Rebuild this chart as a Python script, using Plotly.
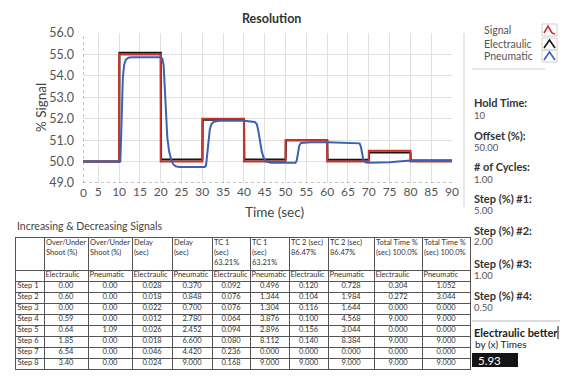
import plotly.graph_objects as go
from itertools import accumulate

W, H = 567, 382
FONT = "Lato"

# ---------------- chart data ----------------
signal_t = [0, 10, 10, 20, 20, 30, 30, 40, 40, 50, 50, 60, 60, 70, 70, 80, 80, 90]
signal_v = [50.0, 50.0, 55.0, 55.0, 50.0, 50.0, 52.0, 52.0, 50.0, 50.0, 51.0, 51.0, 50.0, 50.0, 50.5, 50.5, 50.0, 50.0]

electraulic_t = [0, 10.03, 10.1, 20.03, 20.1, 30.03, 30.1, 40.03, 40.1, 50.03, 50.1, 60.03, 60.1, 70.03, 70.1, 80.03, 80.1, 90]
electraulic_v = [50.0, 50.0, 55.08, 55.08, 50.1, 50.1, 51.95, 51.95, 50.1, 50.1, 51.0, 51.0, 50.08, 50.08, 50.42, 50.42, 50.05, 50.05]

pneumatic_t = [0, 10.3, 10.5, 10.7, 10.9, 11.2, 11.6, 12.2, 13.0, 20.0, 20.4, 20.7, 20.9, 21.1, 21.3, 21.6, 22.0, 22.5, 23.0, 23.6, 24.5,
               30.6, 30.9, 31.2, 31.5, 31.8, 32.2, 32.8, 34.0, 40.0, 42.6, 43.1, 43.5, 43.9, 44.3, 44.8, 45.4, 46.5,
               52.4, 52.7, 53.0, 53.3, 53.7, 56.0, 60.0, 65.0, 67.8, 68.1, 68.4, 68.7, 69.2, 70.0, 75.0, 80.0, 90.0]
pneumatic_v = [50.0, 50.0, 51.2, 52.8, 53.9, 54.5, 54.75, 54.85, 54.87, 54.87, 54.8, 54.5, 53.8, 52.8, 51.9, 51.1, 50.5, 50.1, 49.88, 49.78, 49.75,
               49.75, 49.82, 50.3, 51.0, 51.5, 51.75, 51.86, 51.9, 51.9, 51.85, 51.75, 51.4, 50.9, 50.45, 50.15, 50.0, 49.95,
               49.95, 50.05, 50.4, 50.75, 50.87, 50.9, 50.9, 50.87, 50.85, 50.7, 50.35, 50.08, 49.97, 49.95, 49.97, 50.05, 50.05]

x_ticks = [5, 10, 15, 20, 25, 30, 35, 40, 45, 50, 55, 60, 65, 70, 75, 80, 85, 90]
y_ticks = [49, 50, 51, 52, 53, 54, 55, 56]

# ---------------- table data ----------------
header_labels = ["", "Over/Under<br>Shoot (%)", "Over/Under<br>Shoot (%)", "Delay<br>(sec)", "Delay<br>(sec)",
                 "TC 1<br>(sec)<br>63.21%", "TC 1<br>(sec)<br>63.21%", "TC 2 (sec)<br>86.47%", "TC 2 (sec)<br>86.47%",
                 "Total Time %<br>(sec) 100.0%", "Total Time %<br>(sec) 100.0%"]
sub_labels = ["", "Electraulic", "Pneumatic", "Electraulic", "Pneumatic", "Electraulic", "Pneumatic",
              "Electraulic", "Pneumatic", "Electraulic", "Pneumatic"]
steps = ["Step 1", "Step 2", "Step 3", "Step 4", "Step 5", "Step 6", "Step 7", "Step 8"]
ele_shoot = ["0.00", "0.60", "0.00", "0.59", "0.64", "1.85", "6.54", "3.40"]
pne_shoot = ["0.00", "0.00", "0.00", "0.00", "1.09", "0.00", "0.00", "0.00"]
ele_delay = ["0.028", "0.018", "0.022", "0.012", "0.026", "0.018", "0.046", "0.024"]
pne_delay = ["0.370", "0.848", "0.700", "2.780", "2.452", "6.600", "4.420", "9.000"]
ele_tc1 = ["0.092", "0.076", "0.076", "0.064", "0.094", "0.080", "0.236", "0.168"]
pne_tc1 = ["0.496", "1.344", "1.304", "3.876", "2.896", "8.112", "0.000", "9.000"]
ele_tc2 = ["0.120", "0.104", "0.116", "0.100", "0.156", "0.140", "0.000", "9.000"]
pne_tc2 = ["0.728", "1.984", "1.644", "4.568", "3.044", "8.384", "0.000", "9.000"]
ele_total = ["0.304", "0.272", "0.000", "9.000", "0.000", "9.000", "0.000", "9.000"]
pne_total = ["1.052", "3.044", "0.000", "9.000", "0.000", "9.000", "0.000", "9.000"]

# table geometry (layout only)
col_widths = [28, 44, 44, 40, 40, 38, 39, 39, 46, 48, 48]
header_h, row_h = 32, 11

# ---------------- side panel ----------------
panel_labels = ["Hold Time:", "Offset (%):", "# of Cycles:", "Step (%) #1:", "Step (%) #2:", "Step (%) #3:", "Step (%) #4:"]
panel_values = ["10", "50.00", "1.00", "5.00", "2.00", "1.00", "0.50"]
legend_names = ["Signal", "Electraulic", "Pneumatic"]
colors = {"Signal": "#c8352f", "Electraulic": "#151515", "Pneumatic": "#3b62b0"}
better_label = "Electraulic better"
times_label = "by (x) Times"
times_value = "5.93"


def px(x):
    return x / W


def py(y):
    return 1 - y / H


fig = go.Figure()

fig.add_trace(go.Scatter(x=electraulic_t, y=electraulic_v, mode="lines", name="Electraulic",
                         line=dict(color=colors["Electraulic"], width=2)))
fig.add_trace(go.Scatter(x=signal_t, y=signal_v, mode="lines", name="Signal",
                         line=dict(color=colors["Signal"], width=2)))
fig.add_trace(go.Scatter(x=pneumatic_t, y=pneumatic_v, mode="lines", name="Pneumatic",
                         line=dict(color=colors["Pneumatic"], width=2)))

# ---------------- table drawn on its own axes ----------------
bounds = [0] + list(accumulate(col_widths))
total_w = bounds[-1]
n_rows = 1 + len(steps)
row_bounds = [0, header_h] + [header_h + row_h * (i + 1) for i in range(n_rows)]
total_h = row_bounds[-1]

columns = [steps, ele_shoot, pne_shoot, ele_delay, pne_delay, ele_tc1, pne_tc1, ele_tc2, pne_tc2, ele_total, pne_total]
tfont = dict(family=FONT, size=7.5, color="#333")

# header texts (top-left aligned)
fig.add_trace(go.Scatter(
    x=[bounds[c] + 2 for c in range(len(header_labels))], y=[1.5] * len(header_labels),
    text=header_labels, mode="text", textposition="bottom right", textfont=tfont,
    xaxis="x2", yaxis="y2", hoverinfo="skip", cliponaxis=False))
# sub-header
fig.add_trace(go.Scatter(
    x=[bounds[c] + 1.5 for c in range(len(sub_labels))], y=[header_h + row_h / 2] * len(sub_labels),
    text=sub_labels, mode="text", textposition="middle right", textfont=tfont,
    xaxis="x2", yaxis="y2", hoverinfo="skip", cliponaxis=False))
# step labels
fig.add_trace(go.Scatter(
    x=[bounds[0] + 1.5] * len(steps), y=[row_bounds[2 + i] + row_h / 2 for i in range(len(steps))],
    text=steps, mode="text", textposition="middle right", textfont=tfont,
    xaxis="x2", yaxis="y2", hoverinfo="skip", cliponaxis=False))
# values
vx, vy, vt = [], [], []
for c in range(1, len(columns)):
    for r, val in enumerate(columns[c]):
        vx.append((bounds[c] + bounds[c + 1]) / 2)
        vy.append(row_bounds[2 + r] + row_h / 2)
        vt.append(val)
fig.add_trace(go.Scatter(x=vx, y=vy, text=vt, mode="text", textposition="middle center", textfont=tfont,
                         xaxis="x2", yaxis="y2", hoverinfo="skip", cliponaxis=False))

x0 = 1.33
fig.update_layout(
    width=W, height=H,
    margin=dict(l=0, r=0, t=0, b=0, autoexpand=False),
    paper_bgcolor="white", plot_bgcolor="white",
    showlegend=False,
    font=dict(family=FONT, color="#444"),
    xaxis=dict(domain=[px(83), px(452)], range=[x0, 90], tickvals=x_ticks,
               showgrid=True, gridcolor="#e0e0e0", gridwidth=1, zeroline=False,
               showline=False, ticks="", tickfont=dict(size=12, color="#555")),
    yaxis=dict(domain=[py(183), py(33)], range=[49, 56], tickvals=y_ticks, tickformat=".1f",
               showgrid=True, gridcolor="#e0e0e0", gridwidth=1, zeroline=False,
               showline=False, ticks="", ticklabelstandoff=8, tickfont=dict(size=12.5, color="#555")),
    xaxis2=dict(domain=[px(16), px(470)], range=[0, total_w], anchor="y2", tickvals=bounds,
                showgrid=True, gridcolor="#555", gridwidth=1, zeroline=False, showticklabels=False,
                ticks="", showline=True, mirror=True, linecolor="#555", linewidth=1, fixedrange=True),
    yaxis2=dict(domain=[py(369), py(238)], range=[total_h, 0], anchor="x2", tickvals=row_bounds,
                showgrid=True, gridcolor="#555", gridwidth=1, zeroline=False, showticklabels=False,
                ticks="", showline=True, mirror=True, linecolor="#555", linewidth=1, fixedrange=True),
)

shapes = [
    dict(type="line", xref="x", yref="y", x0=x0, x1=90, y0=49, y1=49, line=dict(color="#888", width=1, dash="dot")),
    dict(type="line", xref="x", yref="y", x0=x0, x1=x0, y0=49, y1=56, line=dict(color="#888", width=1, dash="dot")),
    dict(type="line", xref="paper", yref="paper", x0=px(464), x1=px(464), y0=py(33), y1=py(207),
         line=dict(color="#cfcfcf", width=1)),
    dict(type="line", xref="paper", yref="paper", x0=px(472), x1=px(545), y0=py(69), y1=py(69),
         line=dict(color="#cfcfcf", width=1)),
    dict(type="line", xref="paper", yref="paper", x0=px(472), x1=px(560), y0=py(321), y1=py(321),
         line=dict(color="#bbb", width=1)),
    dict(type="line", xref="paper", yref="paper", x0=px(558), x1=px(558), y0=py(326), y1=py(339),
         line=dict(color="#111", width=1)),
    dict(type="rect", xref="paper", yref="paper", x0=px(472), x1=px(518), y0=py(367), y1=py(353),
         fillcolor="#141414", line=dict(width=0)),
]

# legend icons
icon_rows = [30, 44, 56]
for name, yc in zip(legend_names, icon_rows):
    shapes.append(dict(type="rect", xref="paper", yref="paper", x0=px(542), x1=px(557),
                       y0=py(yc + 6), y1=py(yc - 6), line=dict(color="#d0d0d0", width=1)))
    if name == "Signal":
        path = (f"M {px(544)},{py(yc + 3)} L {px(548)},{py(yc - 4)} L {px(552)},{py(yc + 3)} "
                f"L {px(555)},{py(yc + 4)}")
    else:
        path = f"M {px(544)},{py(yc + 4)} L {px(549.5)},{py(yc - 4)} L {px(555)},{py(yc + 4)}"
    shapes.append(dict(type="path", xref="paper", yref="paper", path=path,
                       line=dict(color=colors[name], width=1.6)))
fig.update_layout(shapes=shapes)

ann = [
    dict(text="<b>Resolution</b>", x=px(271), y=py(19), font=dict(size=12.5, color="#333")),
    dict(text="Time (sec)", x=px(274), y=py(212), font=dict(size=13.5, color="#444")),
    dict(text="% Signal", x=px(31), y=py(108), textangle=-90, font=dict(size=13.5, color="#444")),
    dict(text="0", x=px(77.5), y=py(193), font=dict(size=12, color="#555")),
    dict(text="Increasing &amp; Decreasing Signals", x=px(15), y=py(226), xanchor="left",
         font=dict(size=10.5, color="#444")),
]
for name, yc in zip(legend_names, icon_rows):
    ann.append(dict(text=name, x=px(482), y=py(yc), xanchor="left", font=dict(size=10.5, color="#555")))

label_y = [103, 135, 167, 198, 230, 263, 295]
for lab, val, yy in zip(panel_labels, panel_values, label_y):
    ann.append(dict(text=f"<b>{lab}</b>", x=px(472), y=py(yy), xanchor="left", font=dict(size=11, color="#333")))
    ann.append(dict(text=val, x=px(472), y=py(yy + 12), xanchor="left", font=dict(size=9.5, color="#555")))
ann.append(dict(text=f"<b>{better_label}</b>", x=px(472), y=py(332), xanchor="left", font=dict(size=11, color="#222")))
ann.append(dict(text=times_label, x=px(473), y=py(344), xanchor="left", font=dict(size=10, color="#222")))
ann.append(dict(text=times_value, x=px(476), y=py(360), xanchor="left", font=dict(size=11.5, color="white")))

for a in ann:
    a.setdefault("xref", "paper")
    a.setdefault("yref", "paper")
    a.setdefault("showarrow", False)
    a.setdefault("yanchor", "middle")
fig.update_layout(annotations=ann)

fig.write_html("out.html", config={"displayModeBar": False},
               post_script="document.body.style.margin='0';")
